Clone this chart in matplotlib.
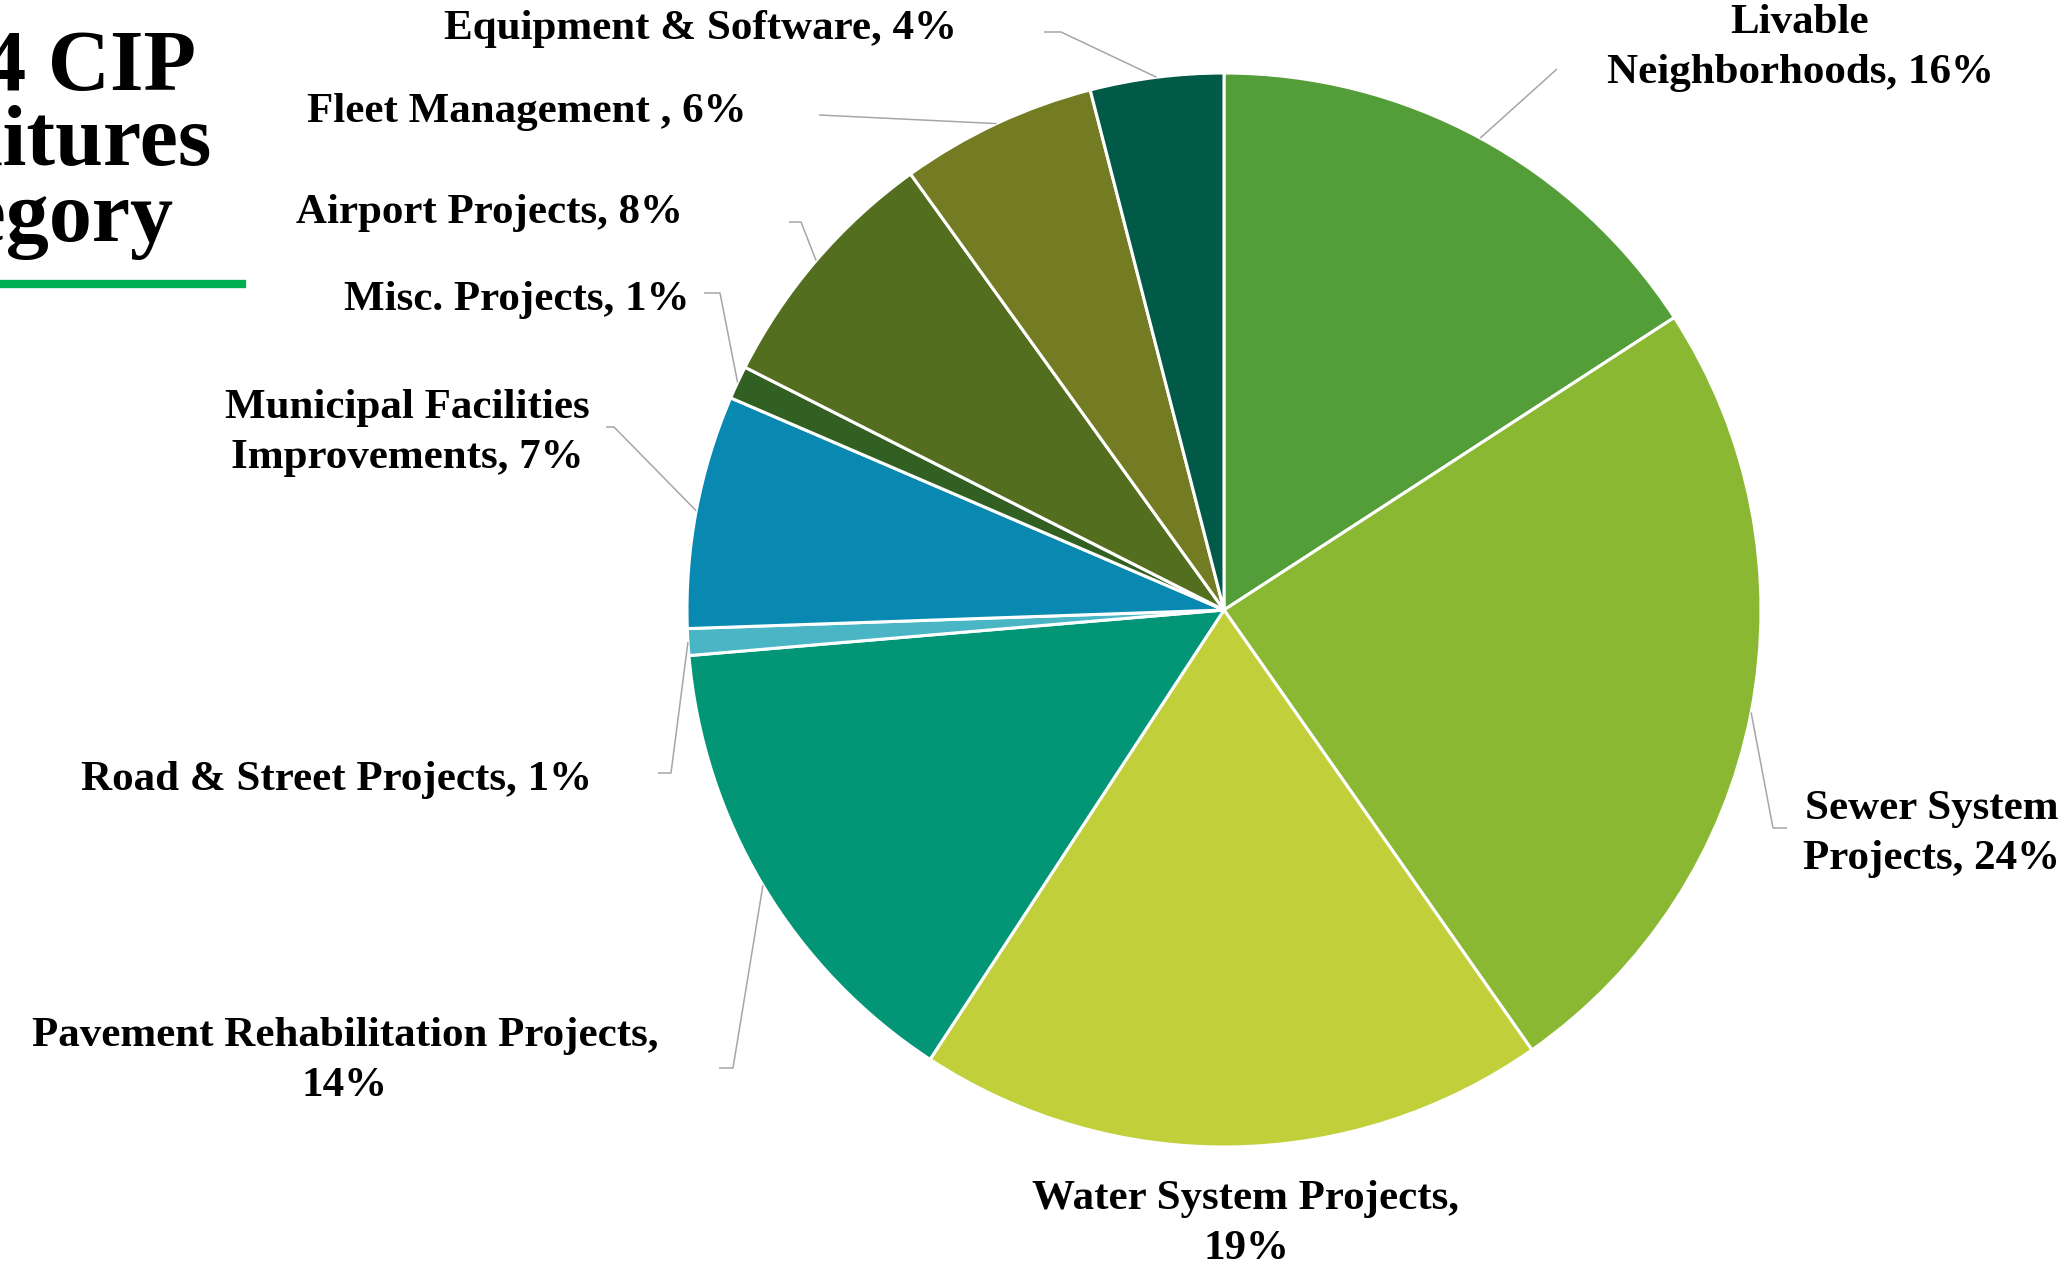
import matplotlib
matplotlib.use("Agg")
import matplotlib.pyplot as plt
import numpy as np

# CIP expenditures by category (percent of total), clockwise from 12 o'clock
categories = ["Livable\nNeighborhoods", "Sewer System\nProjects", "Water System Projects",
              "Pavement Rehabilitation Projects", "Road & Street Projects",
              "Municipal Facilities\nImprovements", "Misc. Projects", "Airport Projects",
              "Fleet Management ", "Equipment & Software"]
shares = [15.8, 24.4, 18.9, 14.4, 0.8, 7.0, 1.0, 7.6, 5.9, 4.0]
seps = [", ", ", ", ",\n", ",\n", ", ", ", ", ", ", ", ", ", ", ", "]

colors = ["#549E39", "#8AB833", "#C0CF3A", "#029676", "#4AB5C4",
          "#0989B1", "#325F22", "#536E1F", "#737C23", "#015A47"]

W, H = 2072, 1268
CX, CY, R = 1224, 610, 537   # pie centre / radius in pixels (from top-left)

# label layout in pixels: text centre, then leader-line bends (None = no line)
label_pos = [(1800, 48), (1932, 834), (1246, 1224), (345, 1061), (337, 780),
             (407, 433), (517, 300), (489, 213), (527, 112), (700, 29)]
bends = [[(1557, 69)], [(1773, 828), (1787, 828)], None,
         [(733, 1068), (719, 1068)], [(671, 773), (658, 773)],
         [(614, 427), (606, 427)], [(720, 293), (704, 293)],
         [(801, 222), (789, 222)], [(819, 115)], [(1061, 32), (1044, 32)]]


def px(x, y):
    return (x - CX) / R, (CY - y) / R


fig = plt.figure(figsize=(W / 100, H / 100), dpi=100)
ax = fig.add_axes([0, 0, 1, 1])

wedges, _ = ax.pie(shares, colors=colors, startangle=90, counterclock=False,
                   radius=1, center=(0, 0), frame=True,
                   wedgeprops=dict(edgecolor="white", linewidth=2.2))
ax.set_xlim(-CX / R, (W - CX) / R)
ax.set_ylim((CY - H) / R, CY / R)
ax.set_aspect("auto")
ax.axis("off")

for i, w in enumerate(wedges):
    txt = f"{categories[i]}{seps[i]}{shares[i]:.0f}%"
    tx, ty = px(*label_pos[i])
    ax.text(tx, ty, txt, ha="center", va="center", fontsize=31,
            fontweight="bold", family="Liberation Serif", linespacing=1.42,
            color="black")
    if bends[i] is None:
        continue
    mid = np.deg2rad((w.theta1 + w.theta2) / 2)
    xs = [np.cos(mid)] + [px(*p)[0] for p in bends[i]]
    ys = [np.sin(mid)] + [px(*p)[1] for p in bends[i]]
    ax.plot(xs, ys, color="#A6A6A6", lw=1.1, solid_capstyle="butt")

# title, partly cut off at the left edge as in the slide
fig.text(212 / W, 1 - 145 / H, "FY 2024 CIP\nExpenditures\nby Category",
         ha="right", va="center", multialignment="left", fontsize=62,
         fontweight="bold", family="Liberation Serif", linespacing=0.95)
fig.add_artist(plt.Line2D([0, 242 / W], [1 - 284 / H, 1 - 284 / H],
                          color="#00B050", lw=6, transform=fig.transFigure))

fig.savefig("out.png", dpi=100)
